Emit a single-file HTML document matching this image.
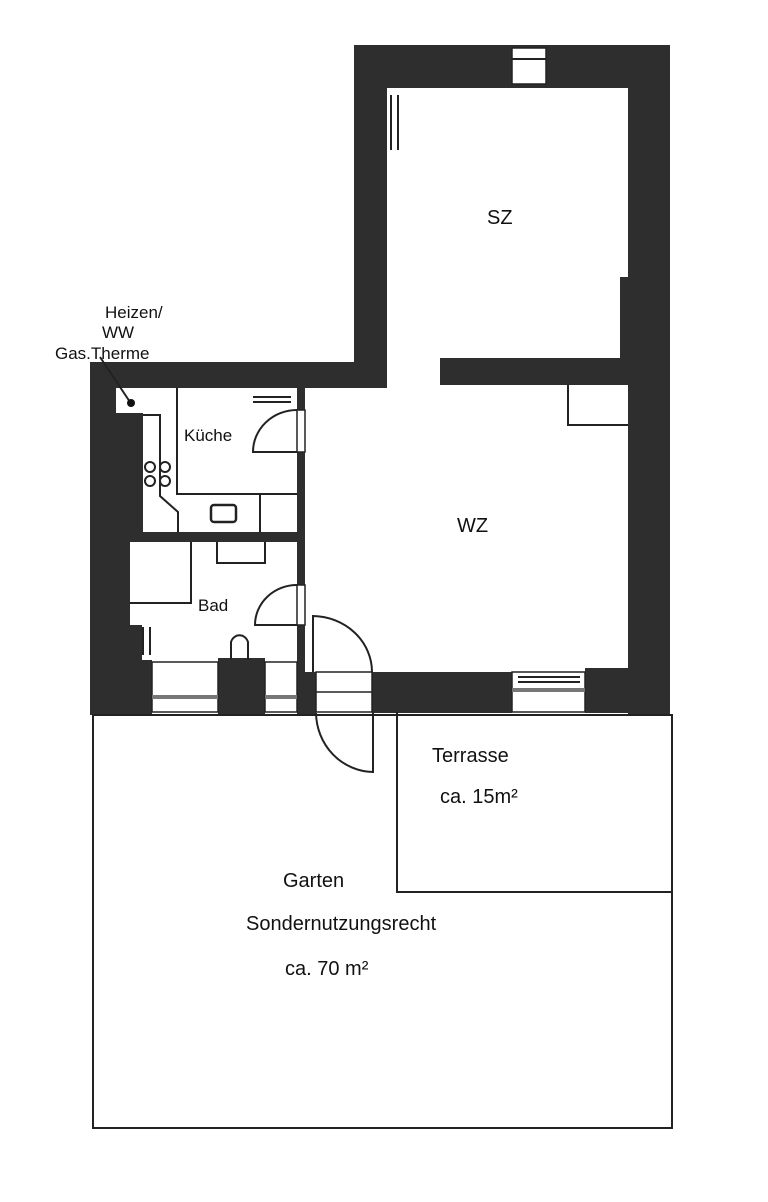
<!DOCTYPE html>
<html><head><meta charset="utf-8"><style>
html,body{margin:0;padding:0;background:#fff;}
svg{display:block;}
text{font-family:"Liberation Sans",sans-serif;fill:#111;}
</style></head><body>
<svg width="768" height="1202" viewBox="0 0 768 1202" xmlns="http://www.w3.org/2000/svg">
<rect width="768" height="1202" fill="#fff"/>
<g fill="#2e2e2e">
<!-- SZ walls -->
<rect x="354" y="45" width="316" height="43"/>
<rect x="354" y="45" width="33" height="340"/>
<rect x="628" y="45" width="42" height="670"/>
<rect x="620" y="277" width="10" height="108"/>
<rect x="440" y="358" width="190" height="27"/>
<!-- top left horizontal wall -->
<rect x="90" y="362" width="297" height="26"/>
<!-- left wall -->
<rect x="90" y="362" width="26" height="353"/>
<rect x="90" y="413" width="53" height="129"/>
<rect x="90" y="388" width="26" height="30"/>
<rect x="90" y="540" width="40" height="90"/>
<rect x="90" y="625" width="52" height="40"/>
<rect x="90" y="660" width="62" height="55"/>
<rect x="218" y="658" width="47" height="57"/>
<!-- kitchen/bath partition -->
<rect x="128" y="532" width="175" height="10"/>
<!-- vertical partition -->
<rect x="297" y="388" width="8" height="327"/>
<rect x="297" y="672" width="19" height="42"/>
<!-- WZ bottom wall -->
<rect x="372" y="672" width="140" height="41"/>
<rect x="585" y="668" width="85" height="45"/>
</g>
<!-- windows -->
<g fill="#fff" stroke="#222" stroke-width="1.5">
<rect x="512" y="48" width="34" height="36"/>
<rect x="152" y="662" width="66" height="50"/>
<rect x="265" y="662" width="32" height="50"/>
<rect x="512" y="672" width="73" height="40"/>
<rect x="316" y="672" width="56" height="40" fill="#fff"/>
<rect x="297" y="410" width="8" height="42"/>
<rect x="297" y="585" width="8" height="40"/>
</g>
<g stroke="#222" stroke-width="2" fill="none">
<line x1="512" y1="59" x2="546" y2="59"/>
<line x1="152" y1="697" x2="218" y2="697" stroke-width="4" stroke="#777"/>
<line x1="265" y1="697" x2="297" y2="697" stroke-width="4" stroke="#777"/>
<line x1="512" y1="690" x2="585" y2="690" stroke-width="4" stroke="#777"/>
<line x1="518" y1="677" x2="580" y2="677"/><line x1="518" y1="682" x2="580" y2="682"/>
<line x1="316" y1="692" x2="372" y2="692" stroke-width="1.5"/>
<!-- SZ double line -->
<line x1="391" y1="95" x2="391" y2="150"/><line x1="398" y1="95" x2="398" y2="150"/>
<!-- WZ corner box -->
<polyline points="568,385 568,425 628,425"/>
<!-- Gas therme leader -->
<line x1="100" y1="357" x2="130" y2="402"/>
<!-- kitchen -->
<polyline points="177,388 177,494 297,494"/>
<polyline points="143,415 160,415 160,496 178,512 178,532"/>
<rect x="211" y="505" width="25" height="17" rx="3" stroke-width="2.5"/>
<line x1="260" y1="494" x2="260" y2="532"/>
<line x1="253" y1="397" x2="291" y2="397"/><line x1="253" y1="402" x2="291" y2="402"/>
<path d="M297,452 L253,452 A44,42 0 0 1 297,410"/>
<circle cx="150" cy="467" r="5"/><circle cx="165" cy="467" r="5"/>
<circle cx="150" cy="481" r="5"/><circle cx="165" cy="481" r="5"/>
<!-- bath -->
<polyline points="130,603 191,603 191,542"/>
<polyline points="217,542 217,563 265,563 265,542"/>
<path d="M297,625 L255,625 A42,40 0 0 1 297,585"/>
<path d="M231,660 L231,642 A9,10 0 0 1 248,642 L248,660"/>
<line x1="143" y1="627" x2="143" y2="655"/><line x1="150" y1="627" x2="150" y2="655"/>
<!-- WZ door -->
<path d="M313,672 L313,616 A60,56 0 0 1 372,672"/>
<path d="M316,713 A58,60 0 0 0 373,772 L373,713"/>
<!-- garden -->
<rect x="93" y="715" width="579" height="413" stroke-width="2"/>
<polyline points="397,712 397,892 672,892"/>
</g>
<circle cx="131" cy="403" r="4" fill="#111"/>
<g font-size="17">
<text x="105" y="318">Heizen/</text>
<text x="102" y="338">WW</text>
<text x="55" y="359">Gas.Therme</text>
<text x="184" y="441">Küche</text>
<text x="198" y="611">Bad</text>
</g>
<g font-size="20">
<text x="487" y="224">SZ</text>
<text x="457" y="532">WZ</text>
<text x="432" y="762">Terrasse</text>
<text x="440" y="803">ca. 15m²</text>
<text x="283" y="887">Garten</text>
<text x="246" y="930">Sondernutzungsrecht</text>
<text x="285" y="975">ca. 70 m²</text>
</g>
</svg>
</body></html>
